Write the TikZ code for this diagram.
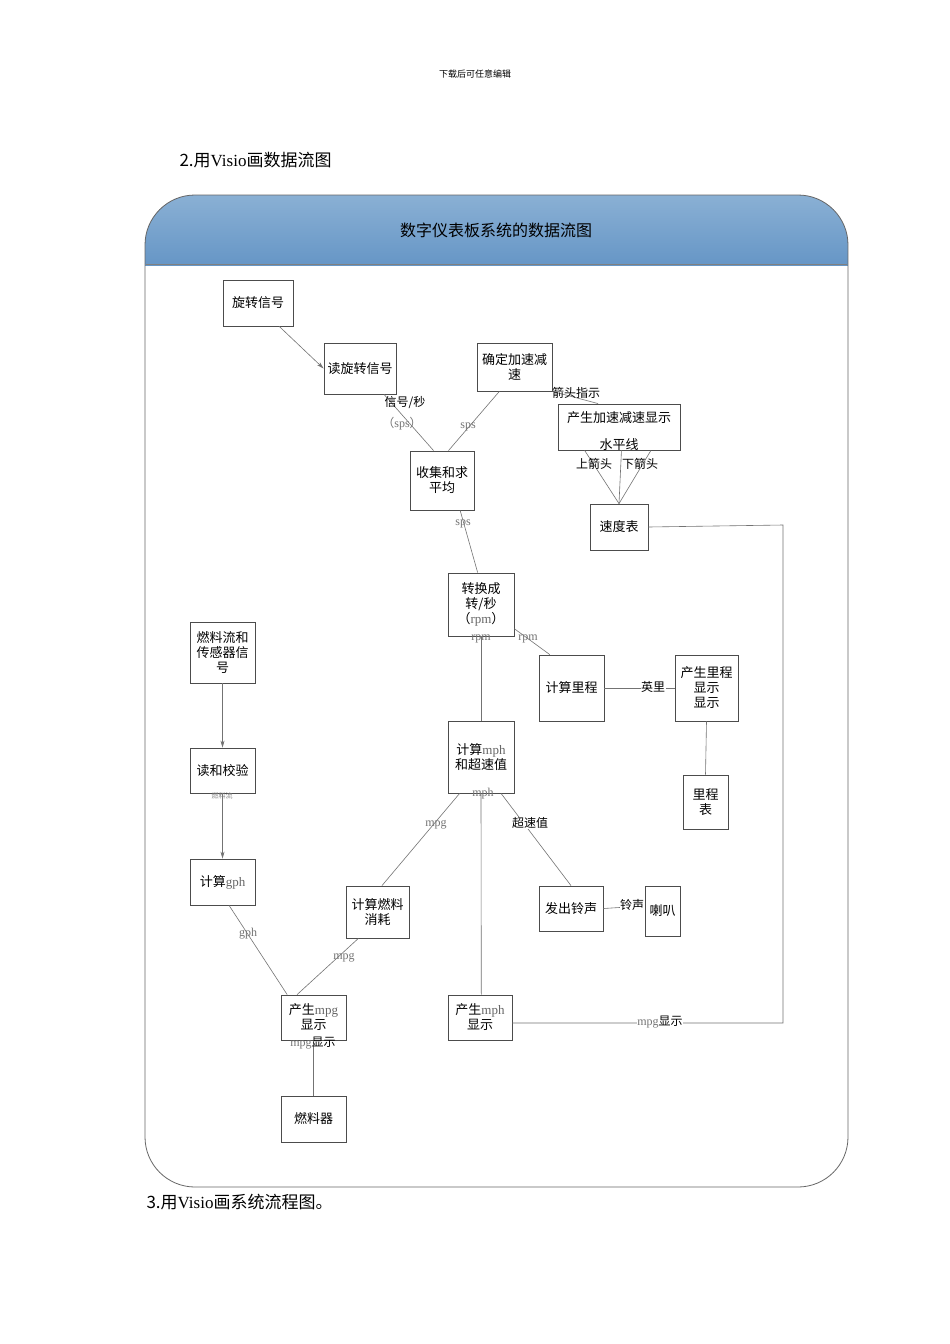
\documentclass[tikz,border=0pt]{standalone}
\usepackage{fontspec}
\setmainfont{Noto Sans CJK SC}
\newfontfamily\lat{Liberation Serif}
\usetikzlibrary{calc,arrows.meta}
\definecolor{hdtop}{RGB}{138,176,212}
\definecolor{hdbot}{RGB}{102,150,198}
\begin{document}
\begin{tikzpicture}[x=1pt,y=-1pt,
  bx/.style={draw=black!70,line width=0.8pt,fill=white,inner sep=1pt,align=center,font=\fontsize{13}{15}\selectfont},
  ln/.style={draw=black!55,line width=0.6pt},
  ar/.style={ln,-{Stealth[length=7pt,width=4pt]}},
  lb/.style={font=\fontsize{12}{13}\selectfont,inner sep=0.5pt,align=center},
  gl/.style={font=\lat\fontsize{12}{13}\selectfont,text=black!55,inner sep=0.5pt}]
\useasboundingbox (0,0) rectangle (950,1344);
\fill[white] (0,0) rectangle (950,1344);
\node[font=\fontsize{9}{10}\selectfont] (top) at (475,74) {下载后可任意编辑};
\node[anchor=west,font=\fontsize{17}{19}\selectfont] (h2) at (176,160) {2.用{\lat Visio}画数据流图};
\node[anchor=west,font=\fontsize{17}{19}\selectfont] (h3) at (143,1202) {3.用{\lat Visio}画系统流程图。};
% frame
\begin{scope}
\clip[rounded corners=50pt] (145,195) rectangle (848,1187);
\shade[top color=hdtop,bottom color=hdbot] (145,195) rectangle (848,265);
\end{scope}
\draw[black!60,line width=0.8pt,rounded corners=50pt] (145,195) rectangle (848,1187);
\draw[white,line width=1pt] (146,266) -- (847,266);
\draw[black!50,line width=0.6pt] (146,264) -- (847,264);
\node[font=\fontsize{16}{18}\selectfont] (title) at (496,230) {数字仪表板系统的数据流图};
% boxes
\def\B#1#2#3#4#5#6{\node[bx,minimum width=#4-#2,minimum height=#5-#3] (#1) at ({(#2+#4)/2},{(#3+#5)/2}) {#6};}
\B{xz}{223}{280}{293}{326}{旋转信号}
\B{dxz}{324}{343}{396}{394}{读旋转信号}
\B{qd}{477}{343}{552}{391}{确定加速减\\速}
\B{cs}{558}{404}{680}{450}{产生加速减速显示\\[4pt]}
\B{sj}{410}{451}{474}{510}{收集和求\\平均}
\B{sdb}{590}{504}{648}{550}{速度表}
\B{zh}{448}{573}{514}{636}{转换成\\转/秒\\（\textcolor{black!60}{\lat rpm}）}
\B{rl}{190}{622}{255}{683}{燃料流和\\传感器信\\号}
\B{jl}{539}{655}{604}{721}{计算里程}
\B{cl}{675}{655}{738}{721}{产生里程\\显示\\显示}
\B{lcb}{683}{775}{728}{829}{里程\\表}
\B{dj}{190}{748}{255}{793}{读和校验}
\B{mph}{448}{721}{514}{793}{计算\textcolor{black!60}{\lat mph}\\和超速值}
\B{gph}{190}{859}{255}{905}{计算\textcolor{black!60}{\lat gph}}
\B{rx}{346}{886}{409}{938}{计算燃料\\消耗}
\B{fc}{539}{886}{603}{931}{发出铃声}
\B{lb}{645}{886}{680}{936}{喇叭}
\B{mpg}{281}{995}{346}{1040}{产生\textcolor{black!60}{\lat mpg}\\显示}
\B{mphd}{448}{995}{512}{1040}{产生\textcolor{black!60}{\lat mph}\\显示}
\B{rlq}{281}{1096}{346}{1142}{燃料器}
\node[lb,font=\fontsize{13}{15}\selectfont] (spx) at (619,445) {水平线};
% connectors
\draw[ar] ($(xz.south west)!0.8!(xz.south east)$) -- (dxz.west);
\draw[ln] ($(dxz.south west)!0.83!(dxz.south east)$) -- ($(sj.north west)!0.37!(sj.north east)$);
\draw[ln] ($(qd.south west)!0.3!(qd.south east)$) -- ($(sj.north west)!0.6!(sj.north east)$);
\draw[ln] (qd.south east) -- ($(cs.north west)!0.33!(cs.north east)$);
\coordinate (sdt) at (sdb.north);
\draw[ln] ($(cs.south west)!0.22!(cs.south east)$) -- (sdt);
\draw[ln] ($(cs.south west)!0.52!(cs.south east)$) -- (sdt);
\draw[ln] ($(cs.south west)!0.76!(cs.south east)$) -- (sdt);
\draw[ln] ($(sj.south west)!0.78!(sj.south east)$) -- ($(zh.north west)!0.45!(zh.north east)$);
\draw[ln] ($(zh.south west)!0.5!(zh.south east)$) -- (mph.north);
\draw[ln] ($(zh.north east)!0.88!(zh.south east)$) -- ($(jl.north west)!0.17!(jl.north east)$);
\draw[ln] (jl.east) -- (cl.west);
\draw[ln] (cl.south) -- (lcb.north);
\draw[ar] (rl.south) -- (dj.north);
\draw[ar] (dj.south) -- (gph.north);
\draw[ln] ($(mph.south west)!0.18!(mph.south east)$) -- ($(rx.north west)!0.57!(rx.north east)$);
\draw[ln] (mph.south) -- ($(mphd.north west)!0.52!(mphd.north east)$);
\draw[ln] ($(mph.south west)!0.8!(mph.south east)$) -- ($(fc.north west)!0.5!(fc.north east)$);
\draw[ln] (fc.east) -- ($(lb.north west)!0.4!(lb.south west)$);
\draw[ln] ($(gph.south west)!0.6!(gph.south east)$) -- ($(mpg.north west)!0.1!(mpg.north east)$);
\draw[ln] ($(rx.south west)!0.2!(rx.south east)$) -- ($(mpg.north west)!0.25!(mpg.north east)$);
\draw[ln] (mpg.south) -- (rlq.north);
\coordinate (c1) at (783,525);
\coordinate (c2) at (783,1023);
\draw[ln] (sdb.east) -- (c1) -- (c2) -- (mphd.east |- c2);
% labels
\node[lb] (l1) at (405,403) {信号/秒};
\node[lb,text=black!55] (l1b) at (402,424) {（{\lat sps}）};
\node[gl] (l2) at (468,427) {sps};
\node[lb] (l3) at (576,393) {箭头指示};
\node[lb] (l4) at (594,464) {上箭头};
\node[lb] (l5) at (640,464) {下箭头};
\node[gl] (l6) at (463,524) {sps};
\node[gl] (l7) at (481,639) {rpm};
\node[gl] (l8) at (528,639) {rpm};
\node[lb,fill=white] (l9) at (653,687) {英里};
\node[font=\fontsize{7}{8}\selectfont,text=black!50] (l10) at (222,796) {燃料流};
\node[gl] (l11) at (483,794) {mph};
\node[gl] (l12) at (436,825) {mpg};
\node[lb,fill=white] (l13) at (530,823) {超速值};
\node[lb,fill=white] (l14) at (632,905) {铃声};
\node[gl] (l15) at (248,934) {gph};
\node[gl] (l16) at (344,958) {mpg};
\node[lb] (l17) at (313,1043) {\textcolor{black!55}{\lat mpg}显示};
\node[lb,fill=white] (l18) at (660,1022) {\textcolor{black!55}{\lat mpg}显示};
\end{tikzpicture}
\end{document}
